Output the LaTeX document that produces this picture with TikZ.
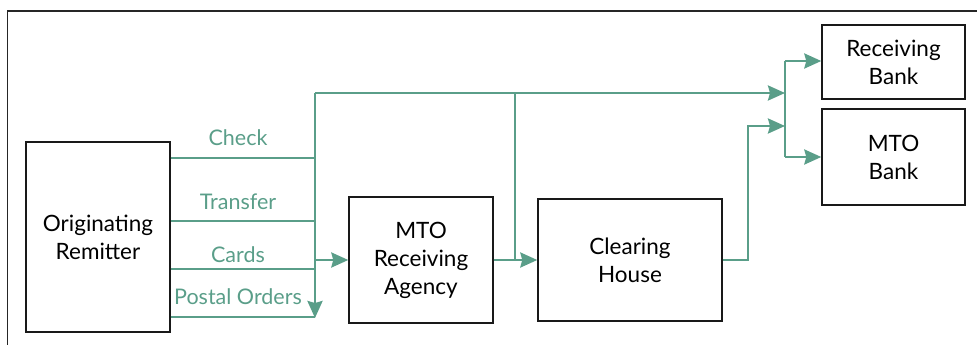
\documentclass[tikz,border=0pt]{standalone}
\usepackage{fontspec}
\setmainfont{Lato}
\usepackage{tikz}
\usetikzlibrary{arrows.meta}
\usepackage{xcolor}
\definecolor{flowgreen}{HTML}{5A9E89}

\tikzset{
  box/.style={draw=black!90, line width=1.4pt, align=center, inner sep=0pt,
    font=\fontsize{22.5}{28}\selectfont},
  flow/.style={draw=flowgreen, line width=2.6pt},
  flowarrow/.style={flow, -{Stealth[length=17pt,width=15pt,inset=2pt]}},
  chan/.style={text=flowgreen, font=\fontsize{21.5}{24}\selectfont}
}

\begin{document}
\begin{tikzpicture}[x=1pt, y=-1pt]
  \useasboundingbox (0,0) rectangle (977,345);
  % outer frame
  \draw[line width=1.5pt, black!85] (7.5,345) |- (977,11);

  % boxes
  \node[box, minimum width=144pt, minimum height=190pt] (remit) at (98,237) {Originating\\Remitter};
  \node[box, minimum width=144pt, minimum height=126pt] (agency) at (421,260) {MTO\\Receiving\\Agency};
  \node[box, minimum width=184pt, minimum height=122pt] (clear) at (630,260) {Clearing\\House};
  \node[box, minimum width=143pt, minimum height=74pt] (rbank) at (893.5,62) {Receiving\\Bank};
  \node[box, minimum width=143pt, minimum height=96pt] (mbank) at (893.5,157) {MTO\\Bank};

  % junction points
  \coordinate (bus) at (315,93);
  \coordinate (busend) at (315,318);
  \coordinate (tap) at (515,93);
  \coordinate (hub) at (785,93);
  \coordinate (hubtop) at (785,61);
  \coordinate (hubbot) at (785,157);
  \coordinate (bend) at (748,126);

  % payment channels
  \draw[flow] (remit.east |- 0,158) -- (bus |- 0,158);
  \draw[flow] (remit.east |- 0,221) -- (bus |- 0,221);
  \draw[flow] (remit.east |- 0,269) -- (bus |- 0,269);
  \draw[flow] (remit.east |- 0,317) -- (bus |- 0,317);
  \node[chan] (check) at (238,138) {Check};
  \node[chan] (transfer) at (238,202) {Transfer};
  \node[chan] (cards) at (238,255) {Cards};
  \node[chan] (postal) at (238,297) {Postal Orders};

  \draw[flowarrow] (bus) -- (busend);
  \draw[flowarrow] (bus |- agency.west) -- (agency.west);
  \draw[flowarrow] (bus) -- (hub);
  \draw[flowarrow] (agency.east) -- (clear.west);
  \draw[flow] (tap) -- (tap |- clear.west);
  \draw[flowarrow] (clear.east) -| (bend) -- (hub |- bend);
  \draw[flow] (hubtop) -- (hubbot);
  \draw[flowarrow] (hubtop) -- (rbank.west |- hubtop);
  \draw[flowarrow] (hubbot) -- (mbank.west);
\end{tikzpicture}
\end{document}
